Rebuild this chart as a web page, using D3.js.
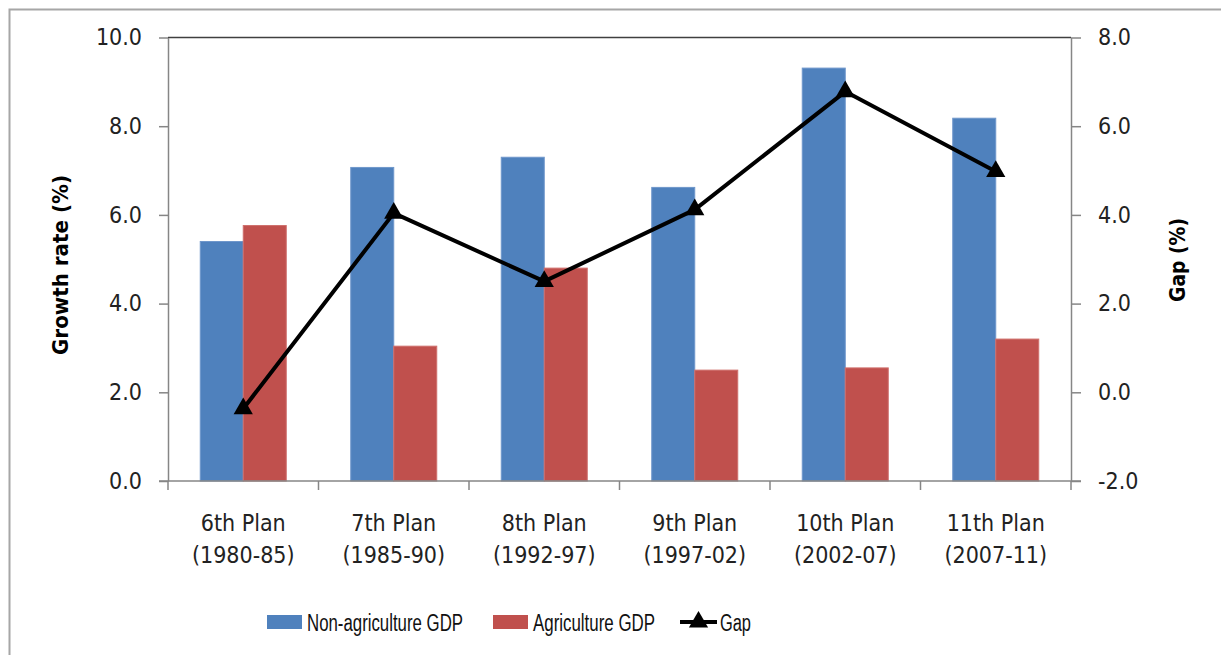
<!DOCTYPE html>
<html>
<head>
<meta charset="utf-8">
<script src="https://cdn.jsdelivr.net/npm/d3@7"></script>
<style>
  html, body { margin: 0; padding: 0; background: #fff; }
  svg { display: block; }
</style>
</head>
<body>
<div id="chart"></div>
<script>
// Plan periods, growth rates and the gap between them
const plans = ['6th Plan', '7th Plan', '8th Plan', '9th Plan', '10th Plan', '11th Plan'];
const periods = ['(1980-85)', '(1985-90)', '(1992-97)', '(1997-02)', '(2002-07)', '(2007-11)'];
const nonAgri = [5.40, 7.07, 7.30, 6.62, 9.31, 8.18];
const agri = [5.76, 3.04, 4.80, 2.50, 2.55, 3.20];
const gap = [-0.37, 4.04, 2.50, 4.12, 6.78, 4.98];
const leftTicks = [0, 2, 4, 6, 8, 10];
const rightTicks = [-2, 0, 2, 4, 6, 8];

const seriesNames = ['Non-agriculture GDP', 'Agriculture GDP'];
const colours = { 'Non-agriculture GDP': '#4F81BD', 'Agriculture GDP': '#C0504D' };

let width = 1221, height = 655,
  plot = { left: 168, right: 1071, top: 37.5, bottom: 481 };

let svg = d3.select('#chart').append('svg')
  .attr('width', width).attr('height', height);

// outer chart border
svg.append('rect')
  .attr('x', 9.5).attr('y', 9.5)
  .attr('width', 1240).attr('height', 700)
  .attr('fill', 'none').attr('stroke', '#a6a6a6').attr('stroke-width', 2);

let x0 = d3.scaleBand().domain(plans).range([plot.left, plot.right]);
let x1 = d3.scaleBand().domain(seriesNames).range([0, x0.bandwidth()]).paddingOuter(0.75);
let yL = d3.scaleLinear().domain([0, 10]).range([plot.bottom, plot.top]);
let yR = d3.scaleLinear().domain([-2, 8]).range([plot.bottom, plot.top]);

const tickFont = '"DejaVu Sans Condensed", "DejaVu Sans", sans-serif';

// top border of plot area
svg.append('line')
  .attr('x1', plot.left).attr('x2', plot.right)
  .attr('y1', yL(10)).attr('y2', yL(10))
  .attr('stroke', '#404040').attr('stroke-width', 1.5);

// bars
let rows = plans.map((p, i) => ({ plan: p, vals: [
  { name: seriesNames[0], v: nonAgri[i] },
  { name: seriesNames[1], v: agri[i] }] }));

let groups = svg.selectAll('.grp')
  .data(rows)
  .enter().append('g')
  .attr('class', 'grp')
  .attr('transform', d => 'translate(' + x0(d.plan) + ',0)');

groups.selectAll('rect')
  .data(d => d.vals)
  .enter().append('rect')
  .attr('x', d => x1(d.name))
  .attr('width', x1.bandwidth())
  .attr('y', d => yL(d.v))
  .attr('height', d => yL(0) - yL(d.v))
  .attr('fill', d => colours[d.name])
  .attr('stroke', d => d.name === seriesNames[0] ? '#6f97cb' : '#cf6f6c')
  .attr('stroke-width', 1);

// left axis
let axL = svg.append('g')
  .attr('transform', 'translate(' + plot.left + ',0)')
  .call(d3.axisLeft(yL).tickValues(leftTicks).tickSize(9).tickSizeOuter(0)
    .tickFormat(v => v.toFixed(1)).tickPadding(17));

// right axis
let axR = svg.append('g')
  .attr('transform', 'translate(' + plot.right + ',0)')
  .call(d3.axisRight(yR).tickValues(rightTicks).tickSize(10).tickSizeOuter(0)
    .tickFormat(v => v.toFixed(1)).tickPadding(17));

// bottom axis, ticks on category boundaries
let axB = svg.append('g')
  .attr('transform', 'translate(0,' + plot.bottom + ')');
axB.append('line')
  .attr('x1', plot.left - 9).attr('x2', plot.right + 10)
  .attr('stroke', '#868686').attr('stroke-width', 1.5);
axB.selectAll('.xtick')
  .data(plans.concat(['end']))
  .enter().append('line')
  .attr('class', 'xtick')
  .attr('x1', (d, i) => plot.left + i * x0.step())
  .attr('x2', (d, i) => plot.left + i * x0.step())
  .attr('y1', 0).attr('y2', 9)
  .attr('stroke', '#868686').attr('stroke-width', 1.5);

[axL, axR].forEach(a => {
  a.select('.domain').attr('stroke', '#868686').attr('stroke-width', 1.5);
  a.selectAll('.tick line').attr('stroke', '#868686').attr('stroke-width', 1.5);
  a.selectAll('.tick text')
    .attr('font-family', tickFont).attr('font-size', 23).attr('fill', '#222');
});

// category labels
let lbl = svg.selectAll('.xlabel')
  .data(plans)
  .enter().append('text')
  .attr('class', 'xlabel')
  .attr('text-anchor', 'middle')
  .attr('font-family', tickFont).attr('font-size', 23).attr('fill', '#222');
lbl.append('tspan')
  .attr('x', d => x0(d) + x0.bandwidth() / 2).attr('y', 531)
  .text(d => d);
lbl.append('tspan')
  .attr('x', d => x0(d) + x0.bandwidth() / 2).attr('y', 563)
  .text((d, i) => periods[i]);

// gap line on right axis
let cx = (d, i) => x0(plans[i]) + x0.bandwidth() / 2;
svg.append('path')
  .datum(gap)
  .attr('d', d3.line().x(cx).y(d => yR(d)))
  .attr('fill', 'none').attr('stroke', '#000').attr('stroke-width', 4)
  .attr('stroke-linejoin', 'round');

let tri = d3.symbol().type(d3.symbolTriangle).size(160);
svg.selectAll('.marker')
  .data(gap)
  .enter().append('path')
  .attr('class', 'marker')
  .attr('d', tri)
  .attr('transform', (d, i) => 'translate(' + cx(d, i) + ',' + yR(d) + ')')
  .attr('fill', '#000');

// axis titles
svg.append('text')
  .attr('transform', 'translate(68,265) rotate(-90)')
  .attr('text-anchor', 'middle')
  .attr('font-family', '"DejaVu Sans", sans-serif').attr('font-weight', 'bold')
  .attr('font-size', 21).attr('fill', '#000')
  .attr('textLength', 180).attr('lengthAdjust', 'spacingAndGlyphs')
  .text('Growth rate (%)');

svg.append('text')
  .attr('transform', 'translate(1185,260) rotate(-90)')
  .attr('text-anchor', 'middle')
  .attr('font-family', '"DejaVu Sans", sans-serif').attr('font-weight', 'bold')
  .attr('font-size', 21).attr('fill', '#000')
  .attr('textLength', 84).attr('lengthAdjust', 'spacingAndGlyphs')
  .text('Gap (%)');

// legend
const legFont = '"Liberation Sans", Arial, sans-serif';
let legend = svg.append('g').attr('font-family', legFont).attr('font-size', 23).attr('fill', '#111');

let legItems = [
  { name: seriesNames[0], x: 267, len: 156 },
  { name: seriesNames[1], x: 493, len: 122 }
];
legItems.forEach(it => {
  legend.append('rect')
    .attr('x', it.x).attr('y', 615).attr('width', 35).attr('height', 14)
    .attr('fill', colours[it.name]);
  legend.append('text')
    .attr('x', it.x + 40).attr('y', 631)
    .attr('textLength', it.len).attr('lengthAdjust', 'spacingAndGlyphs')
    .text(it.name);
});

legend.append('line')
  .attr('x1', 680).attr('x2', 717).attr('y1', 622).attr('y2', 622)
  .attr('stroke', '#000').attr('stroke-width', 4);
legend.append('path')
  .attr('d', tri)
  .attr('transform', 'translate(698.5,622)')
  .attr('fill', '#000');
legend.append('text').attr('x', 720).attr('y', 631)
  .attr('textLength', 31).attr('lengthAdjust', 'spacingAndGlyphs')
  .text('Gap');
</script>
</body>
</html>
